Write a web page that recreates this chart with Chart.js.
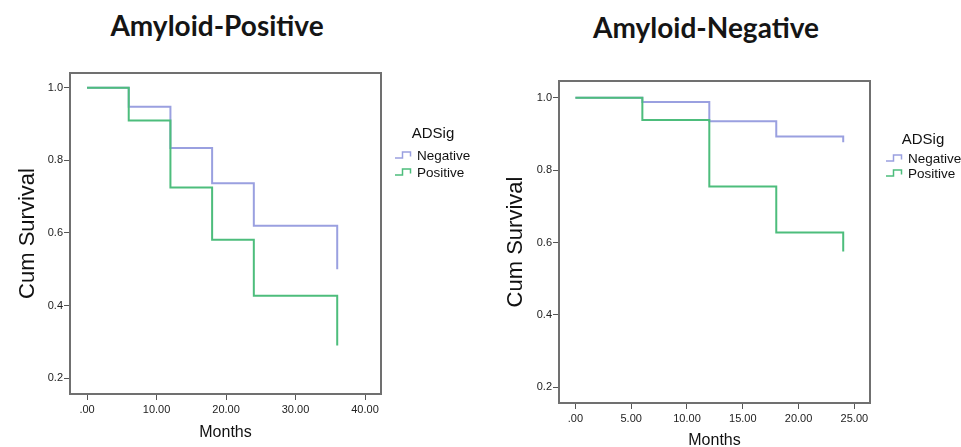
<!DOCTYPE html>
<html>
<head>
<meta charset="utf-8">
<script src="https://cdn.jsdelivr.net/npm/chart.js@4.4.1/dist/chart.umd.min.js"></script>
<style>
  body { margin: 0; background: #fff; }
  #wrap { position: relative; width: 961px; height: 447px; overflow: hidden; font-family: "Liberation Sans", Arial, sans-serif; color: #111; }
  .box { position: absolute; top: 0; height: 447px; }
  .title { position: absolute; font-family: Lato, sans-serif; font-weight: bold; font-size: 28px; color: #151515; white-space: nowrap; transform: translate(-50%, -50%); }
  .lg { position: absolute; white-space: nowrap; transform: translateY(-50%); }
  .lg-head { font-size: 15px; transform: translate(-50%, -50%); }
  .lg-item { font-size: 13.5px; display: flex; align-items: center; }
  .lg-item svg { margin-right: 1px; }
</style>
</head>
<body>
<div id="wrap">
  <div class="title" style="left:217px; top:25px;">Amyloid-Positive</div>
  <div class="title" style="left:706px; top:27px;">Amyloid-Negative</div>
  <div class="box" style="left:0; width:480px;"><canvas id="chartPos" width="480" height="447"></canvas></div>
  <div class="box" style="left:480px; width:481px;"><canvas id="chartNeg" width="481" height="447"></canvas></div>
</div>
<script>
// series
const seriesNames = ['Negative', 'Positive'];
const seriesColors = ['#9aa0e0', '#4dbd7c'];
const legendTitle = 'ADSig';

// Amyloid-Positive panel
const monthsPos = [0, 6, 12, 18, 24, 36];
const survNegPos = [1.0, 0.948, 0.834, 0.737, 0.620, 0.500];
const survPosPos = [1.0, 0.910, 0.725, 0.581, 0.427, 0.290];
const xTicksPos = [0, 10, 20, 30, 40];
const xLabelsPos = ['.00', '10.00', '20.00', '30.00', '40.00'];

// Amyloid-Negative panel
const monthsNeg = [0, 6, 12, 18, 24];
const survNegNeg = [1.0, 0.988, 0.935, 0.893, 0.877];
const survPosNeg = [1.0, 0.938, 0.755, 0.628, 0.575];
const xTicksNeg = [0, 5, 10, 15, 20, 25];
const xLabelsNeg = ['.00', '5.00', '10.00', '15.00', '20.00', '25.00'];

const yTicks = [0.2, 0.4, 0.6, 0.8, 1.0];
const yLabels = ['0.2', '0.4', '0.6', '0.8', '1.0'];

Chart.defaults.font.family = '"Liberation Sans", Arial, sans-serif';
Chart.defaults.color = '#222';

// full box around the plot area, like SPSS draws it
const framePlugin = {
  id: 'frame',
  beforeDatasetsDraw(chart) {
    const { ctx, chartArea: a } = chart;
    ctx.save();
    ctx.strokeStyle = '#707070';
    ctx.lineWidth = 2;
    ctx.strokeRect(a.left, a.top, a.right - a.left, a.bottom - a.top);
    ctx.restore();
  }
};

function makeChart(id, months, neg, pos, xTicks, xLabels, o) {
  const toPts = (vals) => months.map((m, i) => ({ x: m, y: vals[i] }));
  const tickGrid = { display: true, drawOnChartArea: false, drawTicks: true, tickLength: 6, color: '#555', lineWidth: 1 };
  return new Chart(document.getElementById(id), {
    type: 'line',
    data: {
      datasets: [
        { label: seriesNames[0], data: toPts(neg), borderColor: seriesColors[0], order: 1 },
        { label: seriesNames[1], data: toPts(pos), borderColor: seriesColors[1], order: 0 }
      ]
    },
    options: {
      responsive: false,
      devicePixelRatio: 1,
      animation: false,
      elements: {
        line: { borderWidth: 2, stepped: 'before', tension: 0 },
        point: { radius: 0, hoverRadius: 0 }
      },
      layout: { padding: { left: 0, top: o.top, right: o.right, bottom: 0 } },
      plugins: { legend: { display: false }, tooltip: { enabled: false } },
      scales: {
        x: {
          type: 'linear',
          min: o.xMin, max: o.xMax,
          afterFit: (s) => { s.height = o.xHeight; },
          afterBuildTicks: (s) => { s.ticks = xTicks.map(v => ({ value: v })); },
          ticks: { padding: 3, font: { size: 11 }, maxRotation: 0, callback: (v, i) => xLabels[i] },
          grid: tickGrid,
          border: { display: false },
          title: { display: true, text: 'Months', font: { size: 16 }, color: '#111', padding: { top: 0, bottom: o.xTitlePad } }
        },
        y: {
          type: 'linear',
          min: o.yMin, max: o.yMax,
          afterFit: (s) => { s.width = o.yWidth; },
          afterBuildTicks: (s) => { s.ticks = yTicks.map(v => ({ value: v })); },
          ticks: { padding: 1, font: { size: 11 }, callback: (v, i) => yLabels[i] },
          grid: tickGrid,
          border: { display: false },
          title: { display: true, text: 'Cum Survival', font: { size: 22 }, color: '#111', padding: { top: o.yTitlePad, bottom: 0 } }
        }
      }
    },
    plugins: [framePlugin]
  });
}

makeChart('chartPos', monthsPos, survNegPos, survPosPos, xTicksPos, xLabelsPos, {
  top: 73, right: 99, yWidth: 70, xHeight: 53,
  xMin: -2.45, xMax: 42.3, yMin: 0.156, yMax: 1.041,
  yTitlePad: 15, xTitlePad: 5
});

makeChart('chartNeg', monthsNeg, survNegNeg, survPosNeg, xTicksNeg, xLabelsNeg, {
  top: 81, right: 91, yWidth: 79, xHeight: 44,
  xMin: -1.47, xMax: 26.4, yMin: 0.157, yMax: 1.046,
  yTitlePad: 23, xTitlePad: -3
});

// legends (step symbol like the SPSS output)
function addLegend(headX, headY, itemX, itemYs) {
  const wrap = document.getElementById('wrap');
  const head = document.createElement('div');
  head.className = 'lg lg-head';
  head.style.left = headX + 'px';
  head.style.top = headY + 'px';
  head.textContent = legendTitle;
  wrap.appendChild(head);
  seriesNames.forEach((name, i) => {
    const row = document.createElement('div');
    row.className = 'lg lg-item';
    row.style.left = itemX + 'px';
    row.style.top = itemYs[i] + 'px';
    row.innerHTML = '<svg width="21" height="9"><path d="M0 7.5 H7.5 V1.5 H15.5 V6" fill="none" stroke="' +
      seriesColors[i] + '" stroke-width="1.5"/></svg><span>' + name + '</span>';
    wrap.appendChild(row);
  });
}
addLegend(433, 132, 395, [155, 172]);
addLegend(923, 138, 886, [158, 173]);
</script>
</body>
</html>
